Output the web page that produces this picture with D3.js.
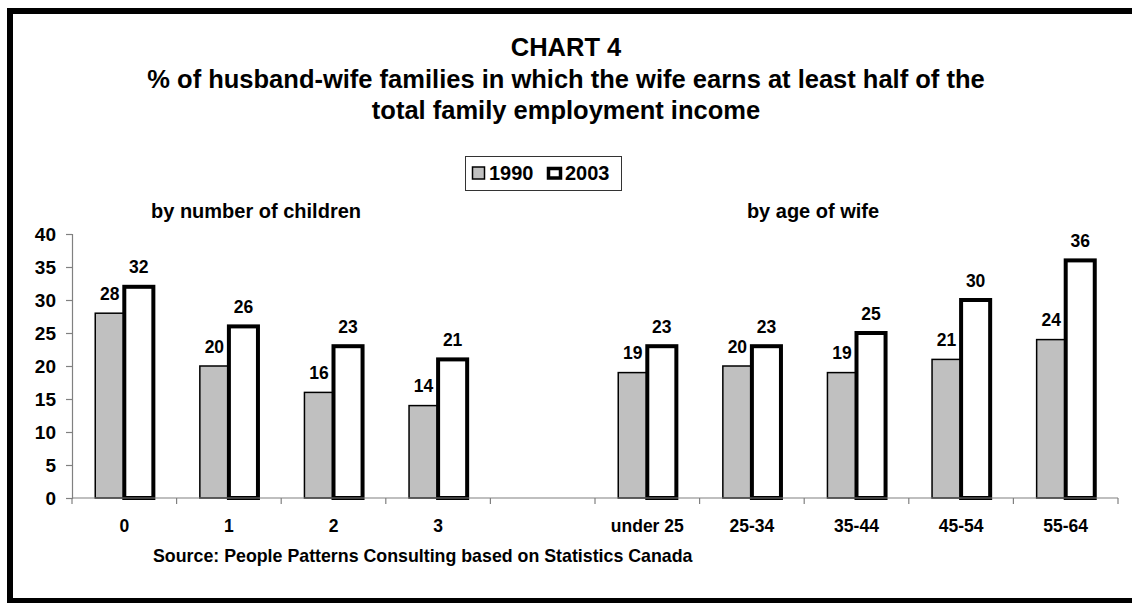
<!DOCTYPE html>
<html>
<head>
<meta charset="utf-8">
<script src="https://cdn.jsdelivr.net/npm/d3@7"></script>
<style>
  html, body { margin: 0; padding: 0; background: #fff; }
  svg { display: block; font-family: "Liberation Sans", Arial, Helvetica, sans-serif; font-weight: bold; }
</style>
</head>
<body>
<svg id="chart" width="1132" height="603"></svg>
<script>
// Categories: number of children, a spacer, then age of wife
const categories = ["0", "1", "2", "3", "", "under 25", "25-34", "35-44", "45-54", "55-64"];
const series = ["1990", "2003"];
const values1990 = [28, 20, 16, 14, null, 19, 20, 19, 21, 24];
const values2003 = [32, 26, 23, 21, null, 23, 23, 25, 30, 36];
const yTicks = [0, 5, 10, 15, 20, 25, 30, 35, 40];

const titleLines = [
  "CHART 4",
  "% of husband-wife families in which the wife earns at least half of the",
  "total family employment income"
];
const sourceText = "Source: People Patterns Consulting based on Statistics Canada";

const svg = d3.select("#chart");

// outer frame (runs past the right edge)
svg.append("rect")
  .attr("x", 10).attr("y", 11)
  .attr("width", 1140).attr("height", 590)
  .attr("fill", "none").attr("stroke", "#000").attr("stroke-width", 6);

// titles
const titleY = [56, 88, 119];
svg.selectAll("text.title").data(titleLines).join("text")
  .attr("class", "title")
  .attr("x", 566).attr("y", (d, i) => titleY[i])
  .attr("text-anchor", "middle")
  .attr("font-size", 25.5)
  .text(d => d);

// legend
const legend = svg.append("g");
legend.append("rect")
  .attr("x", 465.5).attr("y", 156.5).attr("width", 156).attr("height", 34)
  .attr("fill", "#fff").attr("stroke", "#333").attr("stroke-width", 1);
legend.append("rect")
  .attr("x", 472.5).attr("y", 167).attr("width", 12).attr("height", 12)
  .attr("fill", "#c0c0c0").attr("stroke", "#000").attr("stroke-width", 1.5);
legend.append("text").attr("x", 489).attr("y", 180).attr("font-size", 20).text(series[0]);
legend.append("rect")
  .attr("x", 548.5).attr("y", 168.5).attr("width", 12).attr("height", 9.5)
  .attr("fill", "#fff").attr("stroke", "#000").attr("stroke-width", 3.5);
legend.append("text").attr("x", 565).attr("y", 180).attr("font-size", 20).text(series[1]);

// panel subtitles
svg.append("text").attr("x", 256).attr("y", 218).attr("text-anchor", "middle")
  .attr("font-size", 20).text("by number of children");
svg.append("text").attr("x", 813).attr("y", 218).attr("text-anchor", "middle")
  .attr("font-size", 20).text("by age of wife");

// scales
const x0 = d3.scaleBand().domain(categories).range([72, 1118]).paddingInner(0).paddingOuter(0);
const x1 = d3.scaleBand().domain(series).range([0, x0.bandwidth()]).paddingInner(0).paddingOuter(0.8);
const y = d3.scaleLinear().domain([0, 40]).range([498, 234]);

// y axis
const yAxis = svg.append("g")
  .attr("transform", "translate(72,0)")
  .call(d3.axisLeft(y).tickValues(yTicks).tickSize(6).tickPadding(10));
yAxis.select(".domain").attr("stroke", "#808080").attr("stroke-width", 1.2);
yAxis.selectAll(".tick line").attr("stroke", "#808080").attr("stroke-width", 1.2);
yAxis.selectAll(".tick text")
  .attr("fill", "#000").attr("font-size", 19).attr("font-weight", "bold")
  .attr("font-family", "Liberation Sans, Arial, sans-serif");

// bars
const rows = categories.map((c, i) => ({ cat: c, v: [values1990[i], values2003[i]] }));
const groups = svg.append("g").selectAll("g").data(rows).join("g")
  .attr("transform", d => `translate(${x0(d.cat)},0)`);

const barStyle = [
  { fill: "#c0c0c0", stroke: 1.5 },
  { fill: "#ffffff", stroke: 4 }
];

series.forEach((s, si) => {
  groups.filter(d => d.v[si] != null).append("rect")
    .attr("x", x1(s))
    .attr("y", d => y(d.v[si]))
    .attr("width", x1.bandwidth())
    .attr("height", d => y(0) - y(d.v[si]))
    .attr("fill", barStyle[si].fill)
    .attr("stroke", "#000")
    .attr("stroke-width", barStyle[si].stroke);
});

series.forEach((s, si) => {
  groups.filter(d => d.v[si] != null).append("text")
    .attr("x", x1(s) + x1.bandwidth() / 2)
    .attr("y", d => y(d.v[si]) - 13.5)
    .attr("text-anchor", "middle")
    .attr("font-size", 17.5)
    .text(d => d.v[si]);
});

// x axis: baseline, boundary ticks, category labels
const xAxis = svg.append("g");
xAxis.append("line")
  .attr("x1", x0.range()[0]).attr("x2", x0.range()[1])
  .attr("y1", y(0)).attr("y2", y(0))
  .attr("stroke", "#808080").attr("stroke-width", 1.2);
const bounds = categories.map(c => x0(c)).concat([x0.range()[1]]);
xAxis.selectAll("line.tick").data(bounds).join("line")
  .attr("class", "tick")
  .attr("x1", d => d).attr("x2", d => d)
  .attr("y1", y(0)).attr("y2", y(0) + 6)
  .attr("stroke", "#808080").attr("stroke-width", 1.2);
xAxis.selectAll("text").data(categories).join("text")
  .attr("x", d => x0(d) + x0.bandwidth() / 2)
  .attr("y", 532)
  .attr("text-anchor", "middle")
  .attr("font-size", 17.5)
  .text(d => d);

// source note
svg.append("text").attr("x", 153).attr("y", 562)
  .attr("font-size", 17.8).text(sourceText);
</script>
</body>
</html>
